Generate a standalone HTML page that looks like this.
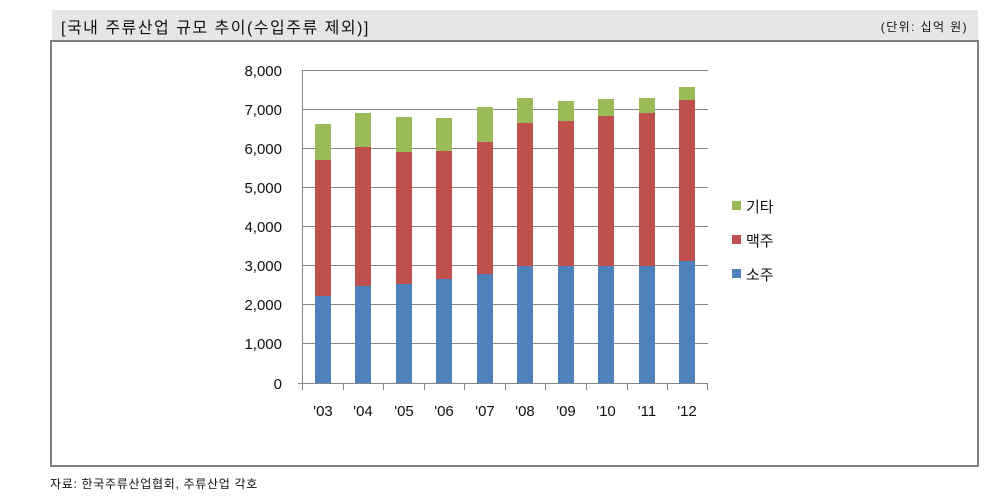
<!DOCTYPE html>
<html><head><meta charset="utf-8"><style>
body{margin:0;background:#fff;width:1001px;height:500px;overflow:hidden;font-family:"Liberation Sans","Noto Sans CJK KR",sans-serif;}
</style></head><body>
<svg width="1001" height="500" xmlns="http://www.w3.org/2000/svg" style="position:absolute;left:0;top:0" font-family="Liberation Sans, Noto Sans CJK KR, sans-serif">
<rect x="52" y="10" width="926" height="30" fill="#e6e6e6"/>
<text x="61" y="33" font-size="16" fill="#111" letter-spacing="1.5">[국내 주류산업 규모 추이(수입주류 제외)]</text>
<text x="968" y="31" font-size="12" fill="#111" text-anchor="end" letter-spacing="1.4">(단위: 십억 원)</text>
<rect x="51" y="41" width="927" height="425" fill="none" stroke="#808080" stroke-width="2"/>
<text x="50" y="488" font-size="12" fill="#111" letter-spacing="0.7">자료: 한국주류산업협회, 주류산업 각호</text>
<g stroke="#868686" stroke-width="1">
<line x1="302" y1="70.5" x2="708" y2="70.5"/><line x1="302" y1="109.5" x2="708" y2="109.5"/>
<line x1="302" y1="148.5" x2="708" y2="148.5"/><line x1="302" y1="187.5" x2="708" y2="187.5"/>
<line x1="302" y1="226.5" x2="708" y2="226.5"/><line x1="302" y1="265.5" x2="708" y2="265.5"/>
<line x1="302" y1="304.5" x2="708" y2="304.5"/><line x1="302" y1="343.5" x2="708" y2="343.5"/>
<line x1="298" y1="383.5" x2="708" y2="383.5"/>
<line x1="302.5" y1="70" x2="302.5" y2="383"/>
<line x1="302.5" y1="383" x2="302.5" y2="390"/><line x1="343.5" y1="383" x2="343.5" y2="390"/>
<line x1="383.5" y1="383" x2="383.5" y2="390"/><line x1="424.5" y1="383" x2="424.5" y2="390"/>
<line x1="464.5" y1="383" x2="464.5" y2="390"/><line x1="505.5" y1="383" x2="505.5" y2="390"/>
<line x1="545.5" y1="383" x2="545.5" y2="390"/><line x1="586.5" y1="383" x2="586.5" y2="390"/>
<line x1="627.5" y1="383" x2="627.5" y2="390"/><line x1="667.5" y1="383" x2="667.5" y2="390"/>
<line x1="707.5" y1="383" x2="707.5" y2="390"/>
</g>
<g font-size="15" fill="#111" text-anchor="end">
<text x="282" y="76">8,000</text><text x="282" y="115">7,000</text><text x="282" y="154">6,000</text>
<text x="282" y="193">5,000</text><text x="282" y="232">4,000</text><text x="282" y="271">3,000</text>
<text x="282" y="310">2,000</text><text x="282" y="349">1,000</text><text x="282" y="389">0</text>
</g>
<g font-size="15" fill="#111" text-anchor="middle">
<text x="323" y="416">'03</text><text x="363" y="416">'04</text><text x="404" y="416">'05</text>
<text x="444" y="416">'06</text><text x="485" y="416">'07</text><text x="525" y="416">'08</text>
<text x="566" y="416">'09</text><text x="606" y="416">'10</text><text x="647" y="416">'11</text>
<text x="687" y="416">'12</text>
</g>
<g>
<rect x="315" y="296" width="16" height="87" fill="#4f81bd"/><rect x="315" y="160" width="16" height="136" fill="#c0504d"/><rect x="315" y="124" width="16" height="36" fill="#9bbb59"/>
<rect x="355" y="286" width="16" height="97" fill="#4f81bd"/><rect x="355" y="147" width="16" height="139" fill="#c0504d"/><rect x="355" y="113" width="16" height="34" fill="#9bbb59"/>
<rect x="396" y="284" width="16" height="99" fill="#4f81bd"/><rect x="396" y="152" width="16" height="132" fill="#c0504d"/><rect x="396" y="117" width="16" height="35" fill="#9bbb59"/>
<rect x="436" y="279" width="16" height="104" fill="#4f81bd"/><rect x="436" y="151" width="16" height="128" fill="#c0504d"/><rect x="436" y="118" width="16" height="33" fill="#9bbb59"/>
<rect x="477" y="274" width="16" height="109" fill="#4f81bd"/><rect x="477" y="142" width="16" height="132" fill="#c0504d"/><rect x="477" y="107" width="16" height="35" fill="#9bbb59"/>
<rect x="517" y="266" width="16" height="117" fill="#4f81bd"/><rect x="517" y="123" width="16" height="143" fill="#c0504d"/><rect x="517" y="98" width="16" height="25" fill="#9bbb59"/>
<rect x="558" y="266" width="16" height="117" fill="#4f81bd"/><rect x="558" y="121" width="16" height="145" fill="#c0504d"/><rect x="558" y="101" width="16" height="20" fill="#9bbb59"/>
<rect x="598" y="266" width="16" height="117" fill="#4f81bd"/><rect x="598" y="116" width="16" height="150" fill="#c0504d"/><rect x="598" y="99" width="16" height="17" fill="#9bbb59"/>
<rect x="639" y="266" width="16" height="117" fill="#4f81bd"/><rect x="639" y="113" width="16" height="153" fill="#c0504d"/><rect x="639" y="98" width="16" height="15" fill="#9bbb59"/>
<rect x="679" y="261" width="16" height="122" fill="#4f81bd"/><rect x="679" y="100" width="16" height="161" fill="#c0504d"/><rect x="679" y="87" width="16" height="13" fill="#9bbb59"/>
</g>
<rect x="732" y="201" width="9" height="9" fill="#9bbb59"/>
<rect x="732" y="235" width="9" height="9" fill="#c0504d"/>
<rect x="732" y="269" width="9" height="9" fill="#4f81bd"/>
<g font-size="15" fill="#111">
<text x="746" y="212">기타</text><text x="746" y="246">맥주</text><text x="746" y="280">소주</text>
</g>
</svg>
</body></html>
